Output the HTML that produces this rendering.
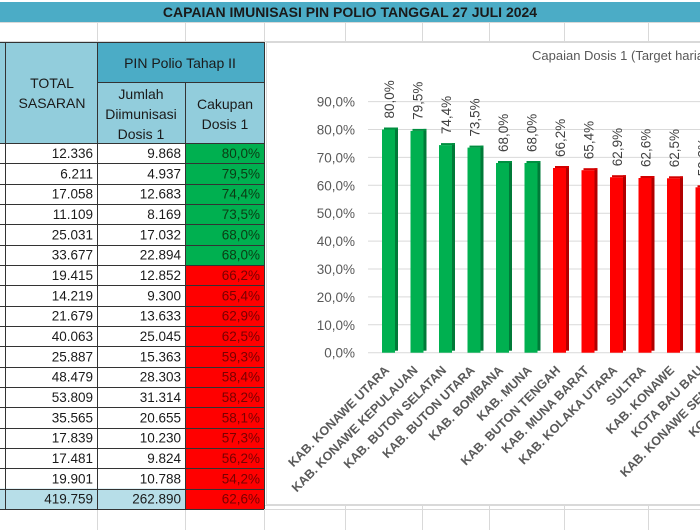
<!DOCTYPE html>
<html><head><meta charset="utf-8"><style>
html,body{margin:0;padding:0;background:#fff;}
svg{display:block;font-family:"Liberation Sans",sans-serif;}
</style></head><body>
<svg width="700" height="530" viewBox="0 0 700 530" xmlns="http://www.w3.org/2000/svg">
<rect width="700" height="530" fill="#fff"/>
<g stroke="#d9d9d9" stroke-width="1">
<line x1="0" y1="22.5" x2="700" y2="22.5"/><line x1="0" y1="41.5" x2="700" y2="41.5"/>
<line x1="0" y1="509.5" x2="700" y2="509.5"/><line x1="0" y1="505.5" x2="700" y2="505.5"/>
<line x1="97.5" y1="22" x2="97.5" y2="42"/><line x1="185.5" y1="22" x2="185.5" y2="42"/>
<line x1="264.5" y1="22" x2="264.5" y2="42"/><line x1="345.5" y1="22" x2="345.5" y2="42"/>
<line x1="422.5" y1="22" x2="422.5" y2="42"/><line x1="489.5" y1="22" x2="489.5" y2="42"/>
<line x1="564.5" y1="22" x2="564.5" y2="42"/><line x1="648.5" y1="22" x2="648.5" y2="42"/>
<line x1="97.5" y1="509" x2="97.5" y2="530"/><line x1="185.5" y1="509" x2="185.5" y2="530"/>
<line x1="264.5" y1="505" x2="264.5" y2="530"/><line x1="345.5" y1="505" x2="345.5" y2="530"/>
<line x1="422.5" y1="505" x2="422.5" y2="530"/><line x1="489.5" y1="505" x2="489.5" y2="530"/>
<line x1="564.5" y1="505" x2="564.5" y2="530"/><line x1="648.5" y1="505" x2="648.5" y2="530"/>
</g>
<rect x="0" y="2" width="700" height="20" fill="#4bacc6"/>
<text x="350" y="17" text-anchor="middle" font-size="14" font-weight="bold" fill="#1a1a1a">CAPAIAN IMUNISASI PIN POLIO TANGGAL 27 JULI 2024</text>
<rect x="0" y="42" width="97" height="101" fill="#92cddc"/>
<rect x="97" y="42" width="167" height="40" fill="#4bacc6"/>
<rect x="97" y="82" width="167" height="61" fill="#92cddc"/>
<g font-size="14" fill="#1a1a1a" text-anchor="middle">
<text x="52" y="88">TOTAL</text><text x="52" y="108">SASARAN</text>
<text x="180" y="68">PIN Polio Tahap II</text>
<text x="141" y="99">Jumlah</text><text x="141" y="119">Diimunisasi</text><text x="141" y="139">Dosis 1</text>
<text x="225" y="109">Cakupan</text><text x="225" y="129">Dosis 1</text>
</g>
<rect x="185" y="143" width="79" height="122" fill="#00b050"/>
<rect x="185" y="265" width="79" height="244" fill="#ff0000"/>
<rect x="0" y="488.6" width="185" height="20.4" fill="#b7dee8"/>
<g font-size="13.5" fill="#1a1a1a" text-anchor="end">
<text x="93" y="158">12.336</text><text x="181" y="158">9.868</text>
<text x="93" y="178.3">6.211</text><text x="181" y="178.3">4.937</text>
<text x="93" y="198.7">17.058</text><text x="181" y="198.7">12.683</text>
<text x="93" y="219">11.109</text><text x="181" y="219">8.169</text>
<text x="93" y="239.3">25.031</text><text x="181" y="239.3">17.032</text>
<text x="93" y="259.7">33.677</text><text x="181" y="259.7">22.894</text>
<text x="93" y="280">19.415</text><text x="181" y="280">12.852</text>
<text x="93" y="300.3">14.219</text><text x="181" y="300.3">9.300</text>
<text x="93" y="320.6">21.679</text><text x="181" y="320.6">13.633</text>
<text x="93" y="341">40.063</text><text x="181" y="341">25.045</text>
<text x="93" y="361.3">25.887</text><text x="181" y="361.3">15.363</text>
<text x="93" y="381.6">48.479</text><text x="181" y="381.6">28.303</text>
<text x="93" y="402">53.809</text><text x="181" y="402">31.314</text>
<text x="93" y="422.3">35.565</text><text x="181" y="422.3">20.655</text>
<text x="93" y="442.6">17.839</text><text x="181" y="442.6">10.230</text>
<text x="93" y="463">17.481</text><text x="181" y="463">9.824</text>
<text x="93" y="483.3">19.901</text><text x="181" y="483.3">10.788</text>
<text x="93" y="503.6">419.759</text><text x="181" y="503.6">262.890</text>
</g>
<g font-size="13.5" fill="#0b3d14" text-anchor="end">
<text x="260" y="158">80,0%</text><text x="260" y="178.3">79,5%</text><text x="260" y="198.7">74,4%</text>
<text x="260" y="219">73,5%</text><text x="260" y="239.3">68,0%</text><text x="260" y="259.7">68,0%</text>
</g>
<g font-size="13.5" fill="#7a0000" text-anchor="end">
<text x="260" y="280">66,2%</text><text x="260" y="300.3">65,4%</text><text x="260" y="320.6">62,9%</text>
<text x="260" y="341">62,5%</text><text x="260" y="361.3">59,3%</text><text x="260" y="381.6">58,4%</text>
<text x="260" y="402">58,2%</text><text x="260" y="422.3">58,1%</text><text x="260" y="442.6">57,3%</text>
<text x="260" y="463">56,2%</text><text x="260" y="483.3">54,2%</text><text x="260" y="503.6">62,6%</text>
</g>
<g stroke="#333" stroke-width="1">
<line x1="0" y1="42.5" x2="264" y2="42.5"/><line x1="97" y1="82.5" x2="264" y2="82.5"/>
<line x1="0" y1="143.5" x2="264" y2="143.5"/><line x1="0" y1="163.5" x2="264" y2="163.5"/>
<line x1="0" y1="184.5" x2="264" y2="184.5"/><line x1="0" y1="204.5" x2="264" y2="204.5"/>
<line x1="0" y1="224.5" x2="264" y2="224.5"/><line x1="0" y1="245.5" x2="264" y2="245.5"/>
<line x1="0" y1="265.5" x2="264" y2="265.5"/><line x1="0" y1="285.5" x2="264" y2="285.5"/>
<line x1="0" y1="306.5" x2="264" y2="306.5"/><line x1="0" y1="326.5" x2="264" y2="326.5"/>
<line x1="0" y1="346.5" x2="264" y2="346.5"/><line x1="0" y1="367.5" x2="264" y2="367.5"/>
<line x1="0" y1="387.5" x2="264" y2="387.5"/><line x1="0" y1="407.5" x2="264" y2="407.5"/>
<line x1="0" y1="428.5" x2="264" y2="428.5"/><line x1="0" y1="448.5" x2="264" y2="448.5"/>
<line x1="0" y1="468.5" x2="264" y2="468.5"/><line x1="0" y1="489.5" x2="264" y2="489.5"/>
<line x1="0" y1="509.5" x2="264" y2="509.5"/>
<line x1="5.5" y1="42" x2="5.5" y2="509"/><line x1="97.5" y1="42" x2="97.5" y2="509"/>
<line x1="185.5" y1="82" x2="185.5" y2="509"/><line x1="264.5" y1="42" x2="264.5" y2="509"/>
</g>
<rect x="266.5" y="42.5" width="440" height="462" fill="#fff" stroke="#d9d9d9"/>
<text x="532" y="60" font-size="13" fill="#595959">Capaian Dosis 1 (Target harian)</text>
<g stroke="#d9d9d9">
<line x1="368" y1="352.7" x2="700" y2="352.7"/><line x1="368" y1="324.8" x2="700" y2="324.8"/>
<line x1="368" y1="296.9" x2="700" y2="296.9"/><line x1="368" y1="269" x2="700" y2="269"/>
<line x1="368" y1="241.1" x2="700" y2="241.1"/><line x1="368" y1="213.2" x2="700" y2="213.2"/>
<line x1="368" y1="185.3" x2="700" y2="185.3"/><line x1="368" y1="157.4" x2="700" y2="157.4"/>
<line x1="368" y1="129.5" x2="700" y2="129.5"/><line x1="368" y1="101.6" x2="700" y2="101.6"/>
</g>
<g font-size="13.5" fill="#595959" text-anchor="end">
<text x="355" y="357.7">0,0%</text><text x="355" y="329.8">10,0%</text><text x="355" y="301.9">20,0%</text>
<text x="355" y="274">30,0%</text><text x="355" y="246.1">40,0%</text><text x="355" y="218.2">50,0%</text>
<text x="355" y="190.3">60,0%</text><text x="355" y="162.4">70,0%</text><text x="355" y="134.5">80,0%</text>
<text x="355" y="106.6">90,0%</text>
</g>
<g fill="#00b050">
<rect x="382" y="129.5" width="13" height="223.2"/><rect x="410.5" y="130.9" width="13" height="221.8"/>
<rect x="439" y="145.1" width="13" height="207.6"/><rect x="467.5" y="147.6" width="13" height="205.1"/>
<rect x="496" y="163" width="13" height="189.7"/><rect x="524.5" y="163" width="13" height="189.7"/>
</g>
<g fill="#007a38">
<rect x="395" y="127.5" width="3" height="223.2"/><rect x="423.5" y="128.9" width="3" height="221.8"/>
<rect x="452" y="143.1" width="3" height="207.6"/><rect x="480.5" y="145.6" width="3" height="205.1"/>
<rect x="509" y="161" width="3" height="189.7"/><rect x="537.5" y="161" width="3" height="189.7"/>
</g>
<g fill="#008f40">
<rect x="384" y="127.5" width="14" height="2"/><rect x="412.5" y="128.9" width="14" height="2"/>
<rect x="441" y="143.1" width="14" height="2"/><rect x="469.5" y="145.6" width="14" height="2"/>
<rect x="498" y="161" width="14" height="2"/><rect x="526.5" y="161" width="14" height="2"/>
</g>
<g fill="#ff0000">
<rect x="553" y="168" width="13" height="184.7"/><rect x="581.5" y="170.2" width="13" height="182.5"/>
<rect x="610" y="177.2" width="13" height="175.5"/><rect x="638.5" y="178" width="13" height="174.7"/>
<rect x="667" y="178.3" width="13" height="174.4"/><rect x="695.5" y="187.3" width="13" height="165.4"/>
</g>
<g fill="#b00000">
<rect x="566" y="166" width="3" height="184.7"/><rect x="594.5" y="168.2" width="3" height="182.5"/>
<rect x="623" y="175.2" width="3" height="175.5"/><rect x="651.5" y="176" width="3" height="174.7"/>
<rect x="680" y="176.3" width="3" height="174.4"/>
</g>
<g fill="#d40000">
<rect x="555" y="166" width="14" height="2"/><rect x="583.5" y="168.2" width="14" height="2"/>
<rect x="612" y="175.2" width="14" height="2"/><rect x="640.5" y="176" width="14" height="2"/>
<rect x="669" y="176.3" width="14" height="2"/><rect x="697.5" y="185.3" width="14" height="2"/>
</g>
<g font-size="13.5" fill="#404040">
<text transform="translate(394,118.5) rotate(-90)">80,0%</text>
<text transform="translate(422.5,119.9) rotate(-90)">79,5%</text>
<text transform="translate(451,134.1) rotate(-90)">74,4%</text>
<text transform="translate(479.5,136.6) rotate(-90)">73,5%</text>
<text transform="translate(508,152) rotate(-90)">68,0%</text>
<text transform="translate(536.5,152) rotate(-90)">68,0%</text>
<text transform="translate(565,157) rotate(-90)">66,2%</text>
<text transform="translate(593.5,159.2) rotate(-90)">65,4%</text>
<text transform="translate(622,166.2) rotate(-90)">62,9%</text>
<text transform="translate(650.5,167) rotate(-90)">62,6%</text>
<text transform="translate(679,167.3) rotate(-90)">62,5%</text>
<text transform="translate(707.5,176.3) rotate(-90)">59,3%</text>
</g>
<g font-size="12.5" font-weight="bold" fill="#595959" text-anchor="end">
<text transform="translate(390,371) rotate(-45)">KAB. KONAWE UTARA</text>
<text transform="translate(418.5,371) rotate(-45)">KAB. KONAWE KEPULAUAN</text>
<text transform="translate(447,371) rotate(-45)">KAB. BUTON SELATAN</text>
<text transform="translate(475.5,371) rotate(-45)">KAB. BUTON UTARA</text>
<text transform="translate(504,371) rotate(-45)">KAB. BOMBANA</text>
<text transform="translate(532.5,371) rotate(-45)">KAB. MUNA</text>
<text transform="translate(561,371) rotate(-45)">KAB. BUTON TENGAH</text>
<text transform="translate(589.5,371) rotate(-45)">KAB. MUNA BARAT</text>
<text transform="translate(618,371) rotate(-45)">KAB. KOLAKA UTARA</text>
<text transform="translate(646.5,371) rotate(-45)">SULTRA</text>
<text transform="translate(675,371) rotate(-45)">KAB. KONAWE</text>
<text transform="translate(703.5,371) rotate(-45)">KOTA BAU BAU</text>
<text transform="translate(732,371) rotate(-45)">KAB. KONAWE SELATAN</text>
<text transform="translate(760.5,371) rotate(-45)">KOTA KENDARI</text>
</g>
</svg>
</body></html>
